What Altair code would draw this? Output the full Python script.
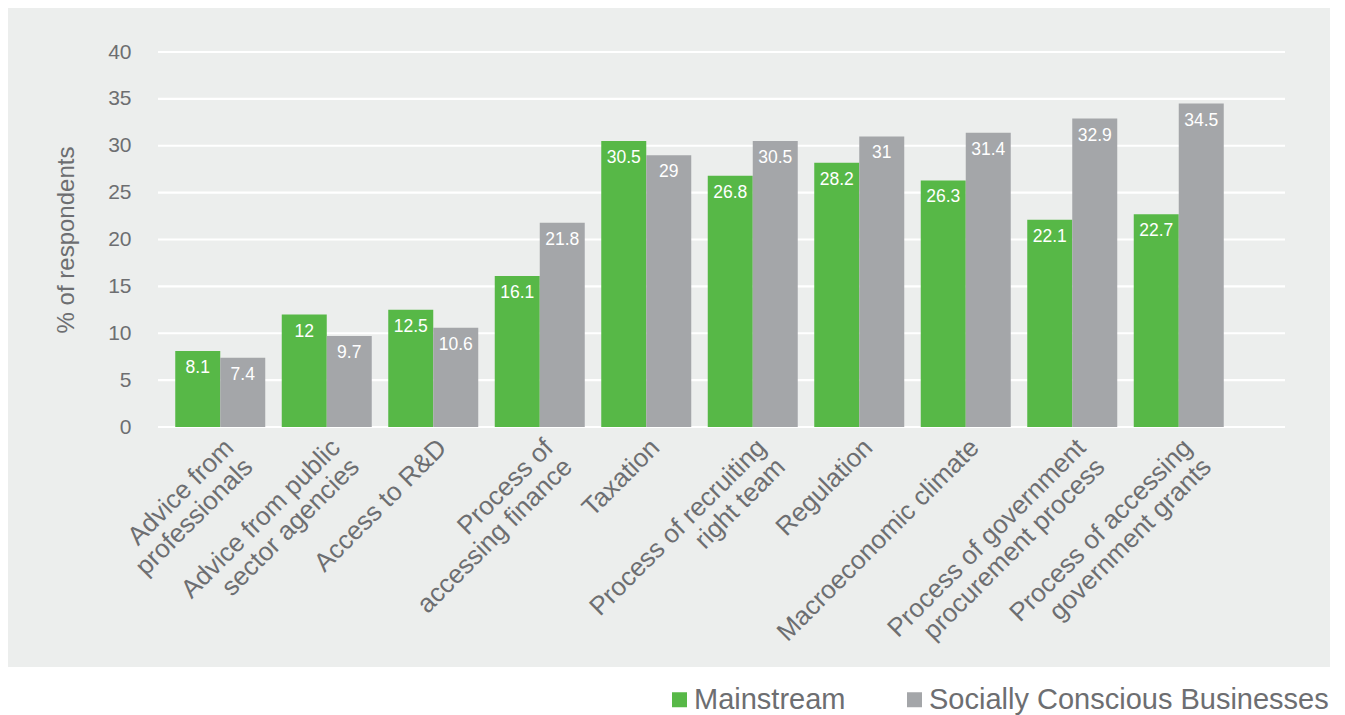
import altair as alt
import pandas as pd

categories = [
    "Advice from\nprofessionals",
    "Advice from public\nsector agencies",
    "Access to R&D",
    "Process of\naccessing finance",
    "Taxation",
    "Process of recruiting\nright team",
    "Regulation",
    "Macroeconomic climate",
    "Process of government\nprocurement process",
    "Process of accessing\ngovernment grants",
]
mainstream = [8.1, 12, 12.5, 16.1, 30.5, 26.8, 28.2, 26.3, 22.1, 22.7]
socially = [7.4, 9.7, 10.6, 21.8, 29, 30.5, 31, 31.4, 32.9, 34.5]
series = ["Mainstream", "Socially Conscious Businesses"]
colors = ["#57B847", "#A4A6A9"]
y_ticks = [0, 5, 10, 15, 20, 25, 30, 35, 40]

rows = []
for c, m, s in zip(categories, mainstream, socially):
    rows.append({"category": c, "series": series[0], "value": m, "label": f"{m:g}"})
    rows.append({"category": c, "series": series[1], "value": s, "label": f"{s:g}"})
df = pd.DataFrame(rows)
grid_df = pd.DataFrame({"value": y_ticks})

FONT = "Liberation Sans"
TXT = "#6D6E71"
BG = "#ECEEED"
W, H = 1127, 375

x_enc = alt.X(
    "category:N",
    sort=categories,
    scale=alt.Scale(range=[9, 1074], paddingInner=0.155, paddingOuter=0.0775),
    axis=alt.Axis(
        title=None,
        labelAngle=315,
        labelExpr="split(datum.label, '\\n')",
        labelFont=FONT,
        labelFontSize=26,
        labelLineHeight=27,
        labelColor=TXT,
        labelPadding=7,
        ticks=False,
        domain=False,
        grid=False,
        labelLimit=0,
    ),
)
xoff = alt.XOffset("series:N", sort=series, scale=alt.Scale(paddingInner=0))
y_enc = alt.Y(
    "value:Q",
    scale=alt.Scale(domain=[0, 40], nice=False),
    axis=alt.Axis(
        title="% of respondents",
        values=y_ticks,
        titleFont=FONT,
        titleFontSize=24,
        titleFontWeight="normal",
        titleColor=TXT,
        titlePadding=29,
        labelFont=FONT,
        labelFontSize=21,
        labelColor=TXT,
        labelPadding=27,
        ticks=False,
        tickSize=0,
        domain=False,
        grid=False,
    ),
)

gridlines = alt.Chart(grid_df).mark_rule(color="white", strokeWidth=2.2).encode(
    y=y_enc, x=alt.value(0), x2=alt.value(W)
)

base = alt.Chart(df)

bars = base.mark_bar().encode(
    x=x_enc,
    xOffset=xoff,
    y=y_enc,
    color=alt.Color(
        "series:N",
        sort=series,
        scale=alt.Scale(domain=series, range=colors),
        legend=alt.Legend(
            title=None,
            orient="none",
            legendX=507,
            legendY=633,
            direction="horizontal",
            symbolType="square",
            symbolSize=225,
            symbolStrokeWidth=0,
            symbolOpacity=1,
            labelFont=FONT,
            labelFontSize=29,
            labelColor=TXT,
            labelOffset=0,
            labelLimit=600,
            columnPadding=54,
            padding=0,
            zindex=1,
        ),
    ),
)

labels = base.mark_text(
    color="white", font=FONT, fontSize=17.5, baseline="middle", align="center", dy=17
).encode(
    x=alt.X("category:N", sort=categories),
    xOffset=alt.XOffset("series:N", sort=series),
    y=alt.Y("value:Q"),
    text="label:N",
)

white_band = alt.Chart(alt.Data(values=[{}])).mark_rect(color="white").encode(
    x=alt.value(-200), x2=alt.value(1300), y=alt.value(615), y2=alt.value(800)
)

chart = (
    alt.layer(gridlines, bars, labels, white_band)
    .properties(
        width=W,
        height=H,
        autosize=alt.AutoSizeParams(type="none"),
        padding={"left": 150, "top": 44, "right": 45, "bottom": 288},
        background=BG,
    )
    .configure_view(stroke=None)
)

chart.save("out.html", embed_options={"renderer": "svg", "actions": False})
